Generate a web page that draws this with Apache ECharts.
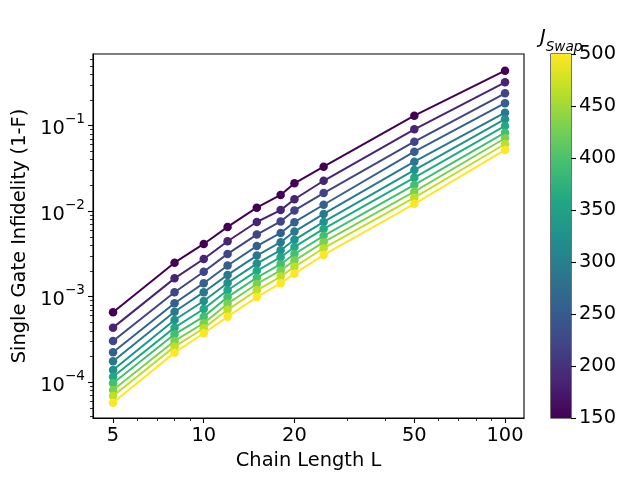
<!DOCTYPE html>
<html>
<head>
<meta charset="utf-8">
<script src="https://cdn.jsdelivr.net/npm/echarts@6/dist/echarts.min.js"></script>
<style>
  html, body { margin: 0; padding: 0; background: #fff; }
  #chart { width: 640px; height: 480px; }
</style>
</head>
<body>
<div id="chart"></div>
<script>
// chain lengths (x) and coupling values (colour)
const lengths = [5, 8, 10, 12, 15, 18, 20, 25, 50, 100];
const jSwap = [150, 185, 220, 255, 290, 325, 360, 395, 430, 465, 500];

// single gate infidelity 1-F, one array per J_Swap
const inf150 = [6.58e-4, 2.50e-3, 4.14e-3, 6.55e-3, 1.10e-2, 1.55e-2, 2.12e-2, 3.32e-2, 0.131, 0.440];
const inf185 = [4.35e-4, 1.64e-3, 2.76e-3, 4.45e-3, 7.48e-3, 1.03e-2, 1.38e-2, 2.27e-2, 9.08e-2, 0.321];
const inf220 = [3.04e-4, 1.13e-3, 1.96e-3, 3.17e-3, 5.33e-3, 7.59e-3, 1.02e-2, 1.63e-2, 6.50e-2, 0.239];
const inf255 = [2.24e-4, 8.39e-4, 1.44e-3, 2.32e-3, 3.91e-3, 5.57e-3, 7.45e-3, 1.19e-2, 4.97e-2, 0.183];
const inf290 = [1.76e-4, 6.68e-4, 1.13e-3, 1.80e-3, 3.03e-3, 4.34e-3, 5.78e-3, 9.29e-3, 3.79e-2, 0.142];
const inf325 = [1.39e-4, 5.35e-4, 8.91e-4, 1.45e-3, 2.44e-3, 3.50e-3, 4.63e-3, 7.50e-3, 3.03e-2, 0.119];
const inf360 = [1.16e-4, 4.35e-4, 7.19e-4, 1.19e-3, 2.01e-3, 2.90e-3, 3.82e-3, 6.21e-3, 2.47e-2, 9.92e-2];
const inf395 = [9.73e-5, 3.64e-4, 5.85e-4, 9.89e-4, 1.67e-3, 2.40e-3, 3.16e-3, 5.15e-3, 2.03e-2, 8.28e-2];
const inf430 = [8.13e-5, 3.04e-4, 4.90e-4, 8.30e-4, 1.41e-3, 2.03e-3, 2.65e-3, 4.35e-3, 1.69e-2, 7.13e-2];
const inf465 = [6.92e-5, 2.61e-4, 4.28e-4, 7.03e-4, 1.19e-3, 1.72e-3, 2.24e-3, 3.69e-3, 1.44e-2, 6.11e-2];
const inf500 = [5.77e-5, 2.22e-4, 3.74e-4, 5.85e-4, 9.91e-4, 1.44e-3, 1.86e-3, 3.08e-3, 1.22e-2, 5.20e-2];
const infidelity = [inf150, inf185, inf220, inf255, inf290, inf325, inf360, inf395, inf430, inf465, inf500];

// tick positions / labels
const xTicks = [5, 10, 20, 50, 100];
const xMinorTicks = [6, 7, 8, 9, 30, 40, 60, 70, 80, 90];
const yTicks = [1e-4, 1e-3, 1e-2, 1e-1];
const yMinorTicks = [4e-5, 5e-5, 6e-5, 7e-5, 8e-5, 9e-5,
  2e-4, 3e-4, 4e-4, 5e-4, 6e-4, 7e-4, 8e-4, 9e-4,
  2e-3, 3e-3, 4e-3, 5e-3, 6e-3, 7e-3, 8e-3, 9e-3,
  2e-2, 3e-2, 4e-2, 5e-2, 6e-2, 7e-2, 8e-2, 9e-2,
  2e-1, 3e-1, 4e-1, 5e-1, 6e-1];

// viridis, sampled at the 11 J values
const viridis = ['#440154', '#482475', '#414487', '#355f8d', '#2a788e', '#21918c',
  '#22a884', '#44bf70', '#7ad151', '#bddf26', '#fde725'];

const FONT = 'DejaVu Sans';
const FS = 19.4;

const chart = echarts.init(document.getElementById('chart'), null, { renderer: 'canvas' });

const lineSeries = jSwap.map((j, k) => ({
  name: 'J=' + j,
  type: 'line',
  xAxisIndex: 0,
  yAxisIndex: 0,
  data: lengths.map((L, i) => [L, infidelity[k][i]]),
  symbol: 'circle',
  symbolSize: 8.5,
  showAllSymbol: true,
  lineStyle: { width: 2, color: viridis[k] },
  itemStyle: { color: viridis[k] },
  emphasis: { disabled: true },
  z: 2 + k
}));

const gradStops = viridis.map((c, k) => ({ offset: k / (viridis.length - 1), color: c }));

const supMinus = e => String(e).replace('-', '\u2212');

const option = {
  animation: false,
  backgroundColor: '#fff',
  grid: [
    { left: 93, right: 116, top: 54, bottom: 62, show: true, borderColor: '#000', borderWidth: 1.1, backgroundColor: 'transparent' },
    { left: 551, width: 20, top: 54, bottom: 62, show: true, borderColor: '#000', borderWidth: 1.1, backgroundColor: 'transparent' }
  ],
  xAxis: [
    {
      type: 'log', gridIndex: 0, logBase: 10, min: 4.29, max: 115.6, position: 'bottom',
      name: 'Chain Length L', nameLocation: 'middle', nameGap: 33,
      nameTextStyle: { fontFamily: FONT, fontSize: FS, color: '#000' },
      axisLine: { show: true, onZero: false, lineStyle: { color: '#000', width: 1.1 } },
      axisTick: { show: true, length: 5, lineStyle: { color: '#000', width: 1.1 }, customValues: xTicks },
      axisLabel: { show: true, margin: 8, fontFamily: FONT, fontSize: FS, color: '#000', customValues: xTicks,
        formatter: v => String(Math.round(v)) },
      splitLine: { show: false }, minorTick: { show: false }
    },
    {
      type: 'log', gridIndex: 0, logBase: 10, min: 4.29, max: 115.6, position: 'bottom',
      axisLine: { show: false, onZero: false },
      axisTick: { show: true, length: 3, lineStyle: { color: '#000', width: 0.8 }, customValues: xMinorTicks },
      axisLabel: { show: false },
      splitLine: { show: false }
    },
    {
      type: 'category', gridIndex: 1, data: ['J'], show: false, boundaryGap: true
    }
  ],
  yAxis: [
    {
      type: 'log', gridIndex: 0, logBase: 10, min: 3.82e-5, max: 0.689, position: 'left',
      name: 'Single Gate Infidelity (1-F)', nameLocation: 'middle', nameGap: 60, nameRotate: 90,
      nameTextStyle: { fontFamily: FONT, fontSize: FS, color: '#000' },
      axisLine: { show: true, onZero: false, lineStyle: { color: '#000', width: 1.1 } },
      axisTick: { show: true, length: 5, lineStyle: { color: '#000', width: 1.1 }, customValues: yTicks },
      axisLabel: {
        show: true, margin: 8, customValues: yTicks,
        formatter: v => '{b|10}{s|' + supMinus(Math.round(Math.log10(v))) + '}',
        rich: {
          b: { fontFamily: FONT, fontSize: FS, color: '#000', verticalAlign: 'bottom', lineHeight: 26 },
          s: { fontFamily: FONT, fontSize: 13.6, color: '#000', verticalAlign: 'top', lineHeight: 26 }
        }
      },
      splitLine: { show: false }, minorTick: { show: false }
    },
    {
      type: 'log', gridIndex: 0, logBase: 10, min: 3.82e-5, max: 0.689, position: 'left',
      axisLine: { show: false, onZero: false },
      axisTick: { show: true, length: 3, lineStyle: { color: '#000', width: 0.8 }, customValues: yMinorTicks },
      axisLabel: { show: false },
      splitLine: { show: false }
    },
    {
      type: 'value', gridIndex: 1, min: 150, max: 500, interval: 50, position: 'right',
      axisLine: { show: false },
      axisTick: { show: true, length: 5, lineStyle: { color: '#000', width: 1.1 } },
      axisLabel: { margin: 8, fontFamily: FONT, fontSize: FS, color: '#000' },
      splitLine: { show: false }
    }
  ],
  graphic: [
    {
      type: 'text', left: 540, top: 28, silent: true,
      style: {
        text: '{j|J}{s|Swap}',
        rich: {
          j: { fontFamily: FONT, fontStyle: 'italic', fontSize: FS, fill: '#000', verticalAlign: 'top', lineHeight: 26 },
          s: { fontFamily: FONT, fontStyle: 'italic', fontSize: 13.6, fill: '#000', verticalAlign: 'bottom', lineHeight: 26 }
        }
      }
    }
  ],
  series: lineSeries.concat([
    {
      name: 'colorbar',
      type: 'bar',
      xAxisIndex: 2,
      yAxisIndex: 2,
      data: [jSwap[jSwap.length - 1]],
      barWidth: '100%',
      silent: true,
      itemStyle: { color: new echarts.graphic.LinearGradient(0, 1, 0, 0, gradStops) },
      z: 1
    }
  ])
};

chart.setOption(option);
</script>
</body>
</html>
